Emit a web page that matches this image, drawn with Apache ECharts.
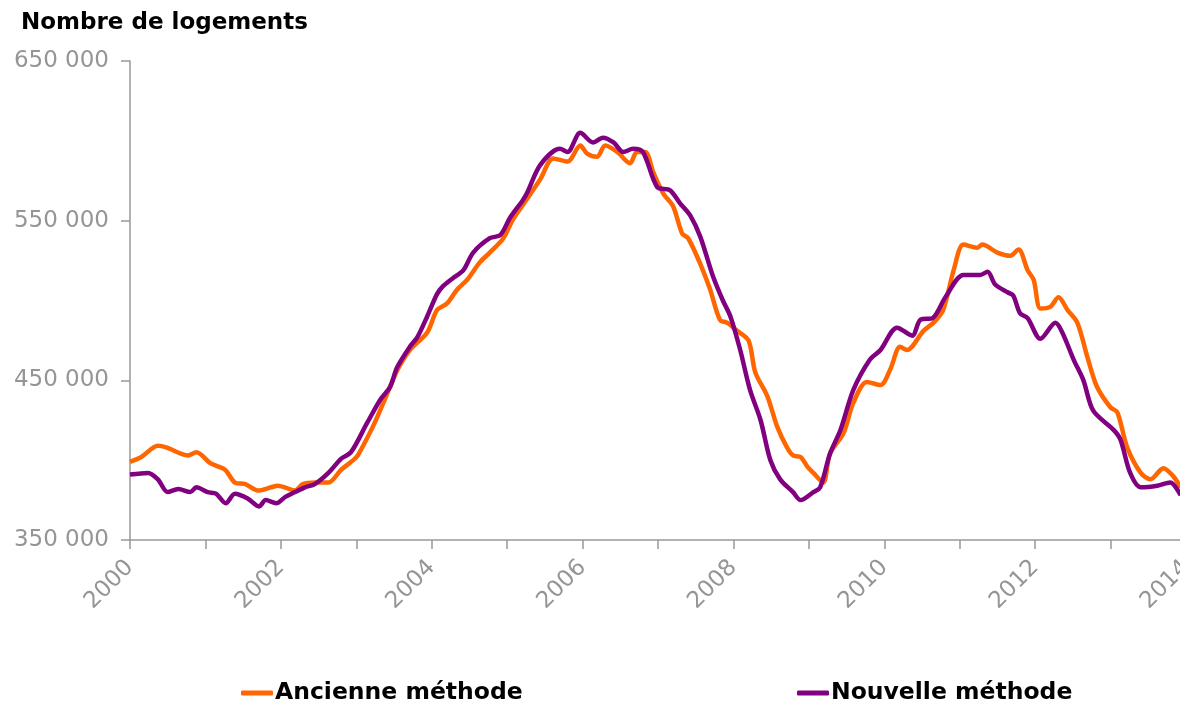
<!DOCTYPE html>
<html style="height: 100%">
<head>
	<meta charset="utf-8">
	<title>Nombre de logements</title>
	<script type="text/javascript" src="https://cdn.jsdelivr.net/npm/echarts/dist/echarts.min.js"></script>
</head>
<body style="height: 100%; margin: 0; background: #fff">
<div id="container" style="width: 1180px; height: 704px"></div>
<script type="text/javascript">
	// valeurs (années décimales, nombre de logements)
	var ancienneAnnees = [2000.00, 2000.15, 2000.37, 2000.48, 2000.77, 2000.88, 2001.07, 2001.26, 2001.39, 2001.53,
		2001.70, 2001.87, 2001.96, 2002.19, 2002.29, 2002.45, 2002.63, 2002.80, 2002.96, 2003.02,
		2003.22, 2003.36, 2003.54, 2003.71, 2003.94, 2004.07, 2004.20, 2004.34, 2004.47, 2004.64,
		2004.77, 2004.95, 2005.08, 2005.27, 2005.44, 2005.61, 2005.80, 2005.97, 2006.06, 2006.19,
		2006.30, 2006.46, 2006.63, 2006.72, 2006.83, 2006.94, 2007.07, 2007.20, 2007.32, 2007.40,
		2007.56, 2007.69, 2007.82, 2007.92, 2008.05, 2008.20, 2008.29, 2008.45, 2008.58, 2008.71,
		2008.79, 2008.89, 2008.98, 2009.06, 2009.19, 2009.28, 2009.46, 2009.59, 2009.77, 2009.95,
		2010.08, 2010.21, 2010.30, 2010.52, 2010.65, 2010.78, 2010.92, 2011.05, 2011.23, 2011.30,
		2011.50, 2011.67, 2011.78, 2011.90, 2011.98, 2012.07, 2012.20, 2012.31, 2012.43, 2012.56,
		2012.69, 2012.82, 2013.00, 2013.09, 2013.22, 2013.40, 2013.53, 2013.70, 2013.83, 2013.93];
	var ancienneValeurs = [399000, 402000, 409000, 408000, 403000, 405000, 398000, 394000, 386000, 385000,
		381000, 383000, 384000, 381000, 385000, 386000, 386000, 394000, 400000, 403000,
		421000, 436000, 456000, 469000, 480000, 494000, 498000, 507000, 513000, 524000,
		530000, 539000, 551000, 564000, 576000, 589000, 587000, 597000, 592000, 590000,
		597000, 593000, 586000, 593000, 593000, 580000, 567000, 559000, 542000, 539000,
		523000, 507000, 488000, 486000, 481000, 475000, 455000, 440000, 421000, 408000,
		403000, 402000, 396000, 392000, 386000, 404000, 417000, 436000, 449000, 447000,
		457000, 471000, 469000, 481000, 486000, 494000, 519000, 535000, 533000, 535000,
		530000, 528000, 532000, 519000, 513000, 495000, 496000, 502000, 494000, 486000,
		465000, 446000, 433000, 430000, 408000, 392000, 388000, 395000, 390000, 383000];

	var nouvelleAnnees = [2000.00, 2000.24, 2000.37, 2000.50, 2000.64, 2000.80, 2000.88, 2001.03, 2001.14, 2001.27,
		2001.39, 2001.56, 2001.71, 2001.80, 2001.94, 2002.06, 2002.19, 2002.32, 2002.45, 2002.63,
		2002.80, 2002.93, 2003.14, 2003.32, 2003.45, 2003.54, 2003.71, 2003.81, 2003.94, 2004.07,
		2004.15, 2004.28, 2004.42, 2004.55, 2004.77, 2004.91, 2005.04, 2005.21, 2005.27, 2005.44,
		2005.70, 2005.80, 2005.97, 2006.14, 2006.27, 2006.41, 2006.54, 2006.67, 2006.80, 2006.99,
		2007.16, 2007.29, 2007.43, 2007.56, 2007.73, 2007.86, 2007.96, 2008.09, 2008.22, 2008.36,
		2008.49, 2008.62, 2008.79, 2008.89, 2009.06, 2009.15, 2009.28, 2009.42, 2009.59, 2009.81,
		2009.95, 2010.17, 2010.37, 2010.48, 2010.64, 2010.81, 2011.05, 2011.27, 2011.37, 2011.47,
		2011.64, 2011.71, 2011.80, 2011.90, 2012.07, 2012.27, 2012.36, 2012.51, 2012.64, 2012.77,
		2013.04, 2013.13, 2013.26, 2013.40, 2013.62, 2013.79, 2013.93];
	var nouvelleValeurs = [391000, 392000, 388000, 380000, 382000, 380000, 383000, 380000, 379000, 373000,
		379000, 376000, 371000, 375000, 373000, 377000, 380000, 383000, 385000, 392000,
		401000, 405000, 423000, 438000, 446000, 458000, 471000, 477000, 490000, 504000,
		509000, 514000, 519000, 530000, 539000, 541000, 552000, 563000, 568000, 585000,
		595000, 593000, 605000, 599000, 602000, 599000, 593000, 595000, 593000, 571000,
		569000, 561000, 553000, 540000, 515000, 500000, 490000, 469000, 444000, 425000,
		400000, 388000, 380000, 375000, 380000, 383000, 404000, 419000, 444000, 463000,
		469000, 483000, 478000, 488000, 489000, 502000, 516000, 516000, 518000, 510000,
		505000, 503000, 492000, 489000, 476000, 486000, 480000, 463000, 450000, 431000,
		419000, 413000, 392000, 383000, 384000, 386000, 378000];

	var graduationsY = [350000, 450000, 550000, 650000];

	function paires(annees, valeurs) {
		return annees.map(function (a, i) { return [a, valeurs[i]]; });
	}

	var gris = '#959595';
	var police = 'DejaVu Sans';

	var myChart = echarts.init(document.getElementById('container'));
	var option = {
		animation: false,
		title: {
			text: 'Nombre de logements',
			left: 16,
			top: 7,
			textStyle: {fontFamily: police, fontWeight: 'bold', fontSize: 23, color: '#000'}
		},
		legend: [{
			data: ['Ancienne méthode'],
			left: 236,
			top: 676,
			icon: 'roundRect',
			itemWidth: 32,
			itemHeight: 5,
			textStyle: {fontFamily: police, fontWeight: 'bold', fontSize: 23.5, color: '#000', padding: [0, 0, 0, -3]}
		}, {
			data: ['Nouvelle méthode'],
			left: 792,
			top: 676,
			icon: 'roundRect',
			itemWidth: 32,
			itemHeight: 5,
			textStyle: {fontFamily: police, fontWeight: 'bold', fontSize: 23.5, color: '#000', padding: [0, 0, 0, -3]}
		}],
		grid: {left: 130, top: 61, right: -6, bottom: 164, containLabel: false, outerBoundsMode: 'none'},
		xAxis: {
			type: 'value',
			min: 2000,
			max: 2014,
			interval: 1,
			splitLine: {show: false},
			axisLine: {lineStyle: {color: '#999', width: 1.5}},
			axisTick: {length: 9, lineStyle: {color: '#999', width: 1.5}},
			axisLabel: {
				rotate: 45,
				margin: 24,
				fontFamily: police,
				fontSize: 23,
				color: gris,
				showMinLabel: true,
				showMaxLabel: true,
				hideOverlap: false,
				formatter: function (v) { return v % 2 === 0 ? String(v) : ''; }
			}
		},
		yAxis: {
			type: 'value',
			min: graduationsY[0],
			max: graduationsY[graduationsY.length - 1],
			interval: 100000,
			splitLine: {show: false},
			axisLine: {show: true, lineStyle: {color: '#999', width: 1.5}},
			axisTick: {show: true, length: 9, lineStyle: {color: '#999', width: 1.5}},
			axisLabel: {
				margin: 21,
				fontFamily: police,
				fontSize: 23,
				color: gris,
				formatter: function (v) { return (v / 1000) + ' 000'; }
			}
		},
		series: [{
			name: 'Ancienne méthode',
			type: 'line',
			smooth: 0.3,
			symbol: 'none',
			data: paires(ancienneAnnees, ancienneValeurs),
			lineStyle: {color: '#FF6600', width: 4.5},
			itemStyle: {color: '#FF6600'}
		}, {
			name: 'Nouvelle méthode',
			type: 'line',
			smooth: 0.3,
			symbol: 'none',
			data: paires(nouvelleAnnees, nouvelleValeurs),
			lineStyle: {color: '#800080', width: 4.5},
			itemStyle: {color: '#800080'}
		}]
	};
	myChart.setOption(option);
</script>
</body>
</html>
